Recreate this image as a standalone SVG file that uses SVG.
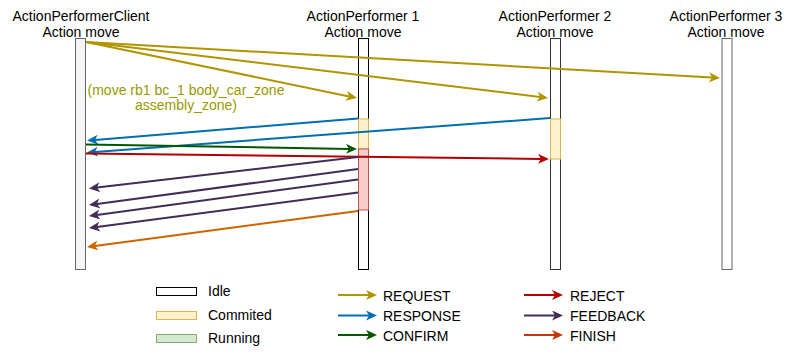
<svg xmlns="http://www.w3.org/2000/svg" width="794" height="352" viewBox="0 0 794 352">
<style>
text{font-family:"Liberation Sans",Arial,Helvetica,sans-serif;font-size:14px;fill:#000}
.t{text-anchor:middle}
.lbl{fill:#999900}
.ln{fill:none;stroke-width:2}
.req{stroke:#B09500}.res{stroke:#006EAF}.con{stroke:#005700}.rej{stroke:#B20000}.fb{stroke:#432D57}.fin{stroke:#CC6600}.finl{stroke:#C73500}
.idle{fill:#fff;stroke:#000}
.cmt{fill:#fff2cc;stroke:#d6b656}
.run{fill:#d5e8d4;stroke:#82b366}
.rnd{fill:#f8cecc;stroke:#b85450}
</style>
<defs>
<marker id="mReq" markerUnits="userSpaceOnUse" markerWidth="12" markerHeight="12" refX="3" refY="5" orient="auto"><path d="M0,0 L11,5 L0,10 L3,5 Z" fill="#B09500"/></marker>
<marker id="mRes" markerUnits="userSpaceOnUse" markerWidth="12" markerHeight="12" refX="3" refY="5" orient="auto"><path d="M0,0 L11,5 L0,10 L3,5 Z" fill="#006EAF"/></marker>
<marker id="mCon" markerUnits="userSpaceOnUse" markerWidth="12" markerHeight="12" refX="3" refY="5" orient="auto"><path d="M0,0 L11,5 L0,10 L3,5 Z" fill="#005700"/></marker>
<marker id="mRej" markerUnits="userSpaceOnUse" markerWidth="12" markerHeight="12" refX="3" refY="5" orient="auto"><path d="M0,0 L11,5 L0,10 L3,5 Z" fill="#B20000"/></marker>
<marker id="mFb" markerUnits="userSpaceOnUse" markerWidth="12" markerHeight="12" refX="3" refY="5" orient="auto"><path d="M0,0 L11,5 L0,10 L3,5 Z" fill="#432D57"/></marker>
<marker id="mFin" markerUnits="userSpaceOnUse" markerWidth="12" markerHeight="12" refX="3" refY="5" orient="auto"><path d="M0,0 L11,5 L0,10 L3,5 Z" fill="#CC6600"/></marker>
<marker id="mFinL" markerUnits="userSpaceOnUse" markerWidth="12" markerHeight="12" refX="3" refY="5" orient="auto"><path d="M0,0 L11,5 L0,10 L3,5 Z" fill="#C73500"/></marker>
</defs>
<rect width="794" height="352" fill="#fff"/>

<g id="client">
<text class="t" x="81" y="21">ActionPerformerClient</text>
<text class="t" x="81" y="37">Action move</text>
<rect x="75.5" y="38.5" width="10" height="231" fill="#f5f5f5" stroke="#666"/>
</g>
<g id="ap1">
<text class="t" x="363" y="21">ActionPerformer 1</text>
<text class="t" x="363" y="37">Action move</text>
<rect x="358.5" y="38.5" width="10" height="231" class="idle"/>
<rect x="358.5" y="119" width="10" height="30" class="cmt"/>
<rect x="358.5" y="149" width="10" height="61" class="rnd"/>
</g>
<g id="ap2">
<text class="t" x="555" y="21">ActionPerformer 2</text>
<text class="t" x="555" y="37">Action move</text>
<rect x="550.5" y="38.5" width="10" height="231" fill="#fff" stroke="#333"/>
<rect x="550.5" y="119" width="10" height="40" class="cmt"/>
</g>
<g id="ap3">
<text class="t" x="726" y="21">ActionPerformer 3</text>
<text class="t" x="726" y="37">Action move</text>
<rect x="722" y="38.5" width="10" height="231" fill="#fff" stroke="#666"/>
</g>

<g id="connectors">
<line class="ln req" x1="86" y1="42" x2="349.2" y2="96.4" marker-end="url(#mReq)"/>
<line class="ln req" x1="86" y1="42" x2="540.1" y2="97" marker-end="url(#mReq)"/>
<line class="ln req" x1="86" y1="42" x2="712" y2="77.5" marker-end="url(#mReq)"/>
<line class="ln res" x1="358" y1="118.5" x2="95" y2="139.9" marker-end="url(#mRes)"/>
<line class="ln res" x1="550" y1="118" x2="95" y2="151.9" marker-end="url(#mRes)"/>
<line class="ln con" x1="86" y1="144.5" x2="349" y2="148.9" marker-end="url(#mCon)"/>
<line class="ln rej" x1="86" y1="153.5" x2="541" y2="158.9" marker-end="url(#mRej)"/>
<line class="ln fb" x1="358" y1="157" x2="96.9" y2="187.6" marker-end="url(#mFb)"/>
<line class="ln fb" x1="358" y1="169" x2="96.9" y2="203.9" marker-end="url(#mFb)"/>
<line class="ln fb" x1="358" y1="179.5" x2="96.9" y2="214.9" marker-end="url(#mFb)"/>
<line class="ln fb" x1="358" y1="192.5" x2="96.9" y2="227" marker-end="url(#mFb)"/>
<line class="ln fin" x1="358" y1="211" x2="94.9" y2="245.9" marker-end="url(#mFin)"/>
<text class="t lbl" x="186" y="95">(move rb1 bc_1 body_car_zone</text>
<text class="t lbl" x="186" y="110">assembly_zone)</text>
</g>

<g id="legend">
<rect x="156.5" y="287.5" width="40" height="8" class="idle"/>
<text x="208" y="296">Idle</text>
<rect x="156.5" y="311.5" width="40" height="8" class="cmt"/>
<text x="208" y="320">Commited</text>
<rect x="156.5" y="334.5" width="40" height="8" class="run"/>
<text x="208" y="343">Running</text>

<line class="ln req" x1="338" y1="295" x2="369" y2="295" marker-end="url(#mReq)"/>
<text x="383" y="301">REQUEST</text>
<line class="ln res" x1="338" y1="315.5" x2="369" y2="315.5" marker-end="url(#mRes)"/>
<text x="383" y="321">RESPONSE</text>
<line class="ln con" x1="338" y1="335" x2="369" y2="335" marker-end="url(#mCon)"/>
<text x="383" y="341">CONFIRM</text>

<line class="ln rej" x1="524" y1="295" x2="555" y2="295" marker-end="url(#mRej)"/>
<text x="570" y="301">REJECT</text>
<line class="ln fb" x1="524" y1="315.5" x2="555" y2="315.5" marker-end="url(#mFb)"/>
<text x="570" y="321">FEEDBACK</text>
<line class="ln finl" x1="524" y1="335" x2="555" y2="335" marker-end="url(#mFinL)"/>
<text x="570" y="341">FINISH</text>
</g>
</svg>
